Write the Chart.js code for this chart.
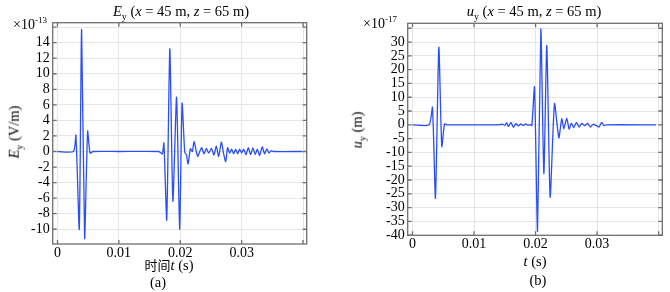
<!DOCTYPE html>
<html>
<head>
<meta charset="utf-8">
<script src="https://cdn.jsdelivr.net/npm/chart.js@4.4.1/dist/chart.umd.min.js"></script>
<style>
  body { margin: 0; background: #fff; width: 670px; height: 292px; position: relative; overflow: hidden; font-family: "Liberation Serif", serif; color: #000; }
  .box { position: absolute; top: 0; width: 335px; height: 292px; }
  .txt { position: absolute; white-space: nowrap; font-size: 14.5px; font-weight: normal; line-height: 1; }
  .c { transform: translate(-50%, -50%); }
  .rot { transform: translate(-50%, -50%) rotate(-90deg); }
  .sub { font-size: 10px; position: relative; top: 4px; }
  .sup { font-size: 9px; position: relative; top: -6px; }
  .cjk { font-family: "Noto Sans CJK SC", sans-serif; font-size: 13px; }
</style>
</head>
<body>
<div class="box" style="left:0"><canvas id="chartA" width="335" height="292"></canvas></div>
<div class="box" style="left:335px"><canvas id="chartB" width="335" height="292"></canvas></div>

<!-- titles -->
<div class="txt c" style="left:181px;top:11px"><i>E</i><span class="sub">y</span> (<i>x</i> = 45 m, <i>z</i> = 65 m)</div>
<div class="txt c" style="left:534px;top:11px"><i>u</i><span class="sub">y</span> (<i>x</i> = 45 m, <i>z</i> = 65 m)</div>

<!-- exponents -->
<div class="txt" style="left:13px;top:18px;font-size:14px">×10<span class="sup">-13</span></div>
<div class="txt" style="left:363px;top:17px;font-size:14px">×10<span class="sup">-17</span></div>

<!-- axis titles -->
<div class="txt rot" style="left:14px;top:132px"><i>E</i><span class="sub">y</span> (V/m)</div>
<div class="txt rot" style="left:357px;top:130px"><i>u</i><span class="sub">y</span> (m)</div>
<div class="txt c" style="left:169px;top:265px"><span class="cjk">时间</span><i>t</i> (s)</div>
<div class="txt c" style="left:535px;top:261px"><i>t</i> (s)</div>
<div class="txt c" style="left:158px;top:282px">(a)</div>
<div class="txt c" style="left:538px;top:280px">(b)</div>

<script>
// Ey at (x = 45 m, z = 65 m), units 1e-13 V/m
const eyT = [0, 0.0026, 0.0030, 0.00355, 0.00393, 0.00442, 0.00491, 0.0053, 0.0058, 0.0100, 0.0165,
  0.01707, 0.01734, 0.0178, 0.0183, 0.0188, 0.0194, 0.0199, 0.0203, 0.02073, 0.0210, 0.02127,
  0.02165, 0.02198, 0.02225, 0.02263, 0.02285, 0.02317, 0.0235, 0.02387, 0.02426, 0.02463,
  0.02507, 0.0255, 0.02588, 0.02626, 0.0267, 0.02707, 0.0274, 0.02772, 0.02805, 0.02837,
  0.0287, 0.02902, 0.02935, 0.02967, 0.0300, 0.03033, 0.0307, 0.03109, 0.03146, 0.03184,
  0.03222, 0.03255, 0.03293, 0.03336, 0.03374, 0.03412, 0.03444, 0.03483, 0.0352, 0.0399];
const eyV = [0, 0, 2.1, -10.0, 15.7, -11.2, 2.6, -0.2, 0, 0, 0,
  -0.3, 1.1, -8.8, 13.2, -6.4, 7.0, -10.0, 6.2, -0.1, -0.4, -1.6,
  0.35, 0, 1.3, -0.05, -0.65, 0, 0.5, -0.3, 0.4, -0.2,
  0.4, -0.45, 0.7, -0.65, 1.2, -0.3, -1.3, 0.5, -0.2, 0.3,
  -0.3, 0.3, -0.3, 0.3, -0.2, 0.3, -0.4, 0.5, -0.4, 0.45,
  -0.4, 0.3, -0.5, 0.6, -0.3, 0.35, -0.2, 0.1, 0, 0];

// uy at (x = 45 m, z = 65 m), units 1e-17 m
const uyT = [0, 0.0027, 0.00324, 0.00373, 0.00428, 0.00476, 0.0052, 0.0056, 0.0138,
  0.0146, 0.0150, 0.0153, 0.0156, 0.0160, 0.0164, 0.0168, 0.0172, 0.0176, 0.0180, 0.0184,
  0.0188, 0.0192, 0.0194, 0.01983, 0.02032, 0.02086, 0.02135, 0.02183, 0.02237, 0.02308,
  0.02378, 0.02426, 0.02459, 0.02507, 0.02545, 0.02583, 0.0262, 0.02665, 0.02708, 0.02751,
  0.028, 0.02843, 0.02892, 0.02935, 0.0299, 0.03033, 0.03075, 0.03112, 0.0315, 0.0396];
const uyV = [0, 0, 6.4, -26.6, 28.1, -7.9, 0.3, 0, 0,
  0.2, -0.2, 0.7, -0.6, 0.9, -0.9, 0.4, -0.4, 0.3, -0.3, 0.3,
  -0.2, 0.1, -0.3, 13.7, -38.6, 34.7, -17.7, 28.8, -26.2, 7.7,
  -4.7, 2.2, -1.5, 2.4, -1.5, 0.6, -1.0, 0.9, -0.8, 0.5,
  -0.3, 0.5, -0.8, 0.2, -0.3, -0.8, 0.9, -0.3, 0, 0];

const tickFont = { family: 'Liberation Serif', size: 14 };

// box round the plot with inward ticks on all four sides
const framePlugin = {
  id: 'frame',
  afterDraw(chart) {
    const { ctx, chartArea: a, scales } = chart;
    ctx.save();
    ctx.strokeStyle = '#6f6f6f';
    ctx.lineWidth = 1.3;
    ctx.strokeRect(a.left, a.top, a.right - a.left, a.bottom - a.top);
    ctx.beginPath();
    scales.x.ticks.forEach(t => {
      const x = scales.x.getPixelForValue(t.value);
      ctx.moveTo(x, a.bottom); ctx.lineTo(x, a.bottom - 4);
      ctx.moveTo(x, a.top); ctx.lineTo(x, a.top + 4);
    });
    scales.y.ticks.forEach(t => {
      const y = scales.y.getPixelForValue(t.value);
      ctx.moveTo(a.left, y); ctx.lineTo(a.left + 4, y);
      ctx.moveTo(a.right, y); ctx.lineTo(a.right - 4, y);
    });
    ctx.stroke();
    ctx.restore();
  }
};

function makeChart(id, times, values, yMin, yMax, yStep, hideY, area) {
  return new Chart(document.getElementById(id), {
    type: 'line',
    data: {
      datasets: [{
        data: times.map((t, i) => ({ x: t, y: values[i] })),
        borderColor: '#2b4ff6',
        borderWidth: 1.3,
        pointRadius: 0,
        tension: 0.2,
        fill: false
      }]
    },
    options: {
      responsive: false,
      animation: false,
      layout: { padding: { top: area.top, right: area.right, bottom: 0, left: 0 } },
      plugins: { legend: { display: false }, tooltip: { enabled: false } },
      scales: {
        x: {
          type: 'linear',
          min: -0.00078,
          max: 0.0406,
          afterFit: s => { s.height = area.bottom; },
          ticks: {
            stepSize: 0.01,
            includeBounds: false,
            autoSkip: false,
            maxRotation: 0,
            padding: 1,
            color: '#000',
            font: tickFont,
            callback: v => (v > 0.035 ? '' : String(Math.round(v * 100) / 100))
          },
          grid: { color: '#e6e6e6', drawTicks: false },
          border: { display: false }
        },
        y: {
          min: yMin,
          max: yMax,
          afterFit: s => { s.width = area.left; },
          ticks: {
            stepSize: yStep,
            includeBounds: false,
            autoSkip: false,
            padding: 3,
            color: '#000',
            font: tickFont,
            callback: v => (v === hideY ? '' : String(v))
          },
          grid: { color: '#e6e6e6', drawTicks: false },
          border: { display: false }
        }
      }
    },
    plugins: [framePlugin]
  });
}

makeChart('chartA', eyT, eyV, -11.9, 16.57, 2, 16, { left: 52.7, top: 22.7, right: 28.3, bottom: 48 });
makeChart('chartB', uyT, uyV, -40.05, 36.8, 5, 35, { left: 72.7, top: 23.3, right: 7.7, bottom: 56.7 });
</script>
</body>
</html>
